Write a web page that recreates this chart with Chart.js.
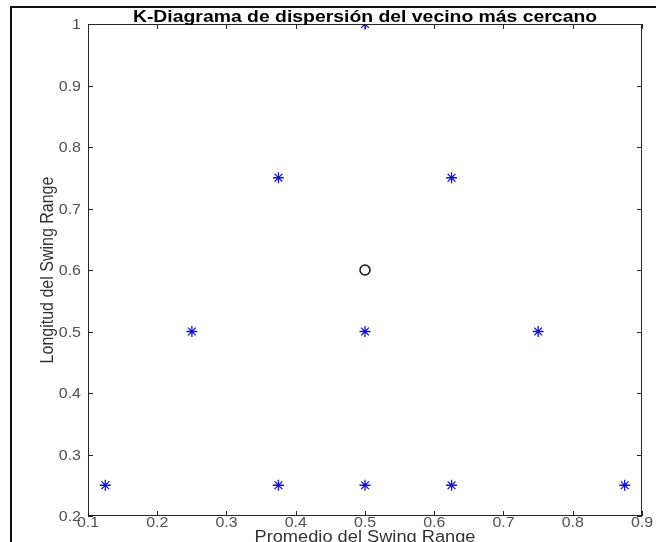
<!DOCTYPE html>
<html>
<head>
<meta charset="utf-8">
<script src="https://cdn.jsdelivr.net/npm/chart.js@4"></script>
<style>
  html, body { margin: 0; padding: 0; background: #fff; }
  #wrap { position: relative; width: 656px; height: 542px; overflow: hidden; }
  #frame { position: absolute; left: 10px; top: 6px; width: 660px; height: 560px;
           border-top: 2px solid #111; border-left: 2px solid #111; box-sizing: border-box; }
  canvas { position: absolute; left: 0; top: 0; }
</style>
</head>
<body>
<div id="wrap">
  <canvas id="c" width="656" height="542"></canvas>
  <div id="frame"></div>
</div>
<script>
// Training samples (blue asterisks)
const sampleX = [0.5, 0.375, 0.625, 0.25, 0.5, 0.75, 0.125, 0.375, 0.5, 0.625, 0.875];
const sampleY = [1.0, 0.75, 0.75, 0.5, 0.5, 0.5, 0.25, 0.25, 0.25, 0.25, 0.25];
// Query point (black circle)
const queryX = [0.5];
const queryY = [0.6];
// Axis ticks
const xTicks = [0.1, 0.2, 0.3, 0.4, 0.5, 0.6, 0.7, 0.8, 0.9];
const yTicks = [0.2, 0.3, 0.4, 0.5, 0.6, 0.7, 0.8, 0.9, 1];

const chartTitle = 'K-Diagrama de dispersión del vecino más cercano';
const xTitle = 'Promedio del Swing Range';
const yTitle = 'Longitud del Swing Range';

const FONT = '"Liberation Sans", Arial, sans-serif';
const SX = 1.14; // horizontal text stretch
const toPts = (xs, ys) => xs.map((x, i) => ({ x, y: ys[i] }));

// draw text horizontally stretched around its anchor
function wideText(ctx, txt, x, y, align, baseline) {
  ctx.save();
  ctx.translate(x, y);
  ctx.scale(SX, 1);
  ctx.textAlign = align;
  ctx.textBaseline = baseline;
  ctx.fillText(txt, 0, 0);
  ctx.restore();
}

// MATLAB-style box with inward ticks on all four sides, tick labels, title and axis labels
const boxPlugin = {
  id: 'box',
  afterDraw(chart) {
    const { ctx, chartArea: a, scales } = chart;
    ctx.save();
    ctx.strokeStyle = '#262626';
    ctx.lineWidth = 1;
    ctx.strokeRect(a.left + 0.5, a.top + 0.5, a.right - a.left - 1, a.bottom - a.top - 1);
    const tl = 5;
    ctx.beginPath();
    scales.x.ticks.forEach(t => {
      const px = Math.round(scales.x.getPixelForValue(t.value)) + 0.5;
      ctx.moveTo(px, a.bottom); ctx.lineTo(px, a.bottom - tl);
      ctx.moveTo(px, a.top); ctx.lineTo(px, a.top + tl);
    });
    scales.y.ticks.forEach(t => {
      const py = Math.round(scales.y.getPixelForValue(t.value)) + 0.5;
      ctx.moveTo(a.left, py); ctx.lineTo(a.left + tl, py);
      ctx.moveTo(a.right, py); ctx.lineTo(a.right - tl, py);
    });
    ctx.stroke();

    // tick labels
    ctx.fillStyle = '#505050';
    ctx.font = '14px ' + FONT;
    scales.x.ticks.forEach(t => {
      wideText(ctx, String(t.value), scales.x.getPixelForValue(t.value), a.bottom + 11, 'center', 'alphabetic');
    });
    scales.y.ticks.forEach(t => {
      wideText(ctx, String(t.value), a.left - 7, scales.y.getPixelForValue(t.value) + 5, 'right', 'alphabetic');
    });

    // title
    ctx.fillStyle = '#000';
    ctx.font = 'bold 17px ' + FONT;
    wideText(ctx, chartTitle, (a.left + a.right) / 2, a.top - 2, 'center', 'alphabetic');

    // axis titles
    ctx.fillStyle = '#333';
    ctx.font = '16px ' + FONT;
    wideText(ctx, xTitle, (a.left + a.right) / 2, chart.height, 'center', 'alphabetic');
    ctx.save();
    ctx.translate(48, (a.top + a.bottom) / 2);
    ctx.rotate(-Math.PI / 2);
    ctx.scale(1, SX);
    ctx.textAlign = 'center';
    ctx.textBaseline = 'middle';
    ctx.fillText(yTitle, 0, 0);
    ctx.restore();
    ctx.restore();
  }
};

new Chart(document.getElementById('c'), {
  type: 'scatter',
  data: {
    datasets: [
      {
        data: toPts(sampleX, sampleY),
        pointStyle: 'star',
        radius: 5.5,
        borderColor: '#1212d0',
        borderWidth: 1.3,
        backgroundColor: '#1212d0'
      },
      {
        data: toPts(queryX, queryY),
        pointStyle: 'circle',
        radius: 5,
        borderColor: '#111',
        borderWidth: 1.5,
        backgroundColor: 'rgba(0,0,0,0)'
      }
    ]
  },
  options: {
    responsive: false,
    animation: false,
    events: [],
    layout: { padding: { left: 0, right: 14, top: 24, bottom: 0 } },
    plugins: { legend: { display: false }, tooltip: { enabled: false } },
    scales: {
      x: {
        type: 'linear', min: 0.1, max: 0.9,
        afterBuildTicks: s => { s.ticks = xTicks.map(v => ({ value: v })); },
        afterFit: s => { s.height = 26; },
        grid: { display: false, drawTicks: false },
        border: { display: false },
        ticks: { display: false }
      },
      y: {
        type: 'linear', min: 0.2, max: 1,
        afterBuildTicks: s => { s.ticks = yTicks.map(v => ({ value: v })); },
        afterFit: s => { s.width = 88; },
        grid: { display: false, drawTicks: false },
        border: { display: false },
        ticks: { display: false }
      }
    }
  },
  plugins: [boxPlugin]
});
</script>
</body>
</html>
